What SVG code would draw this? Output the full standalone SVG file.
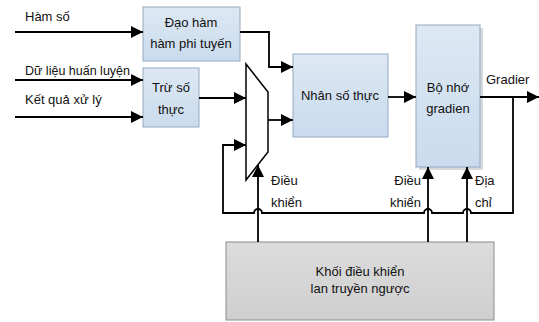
<svg xmlns="http://www.w3.org/2000/svg" width="539" height="322" viewBox="0 0 539 322">
<style>
.t{font-family:"Liberation Sans","DejaVu Sans",sans-serif;font-size:13px;fill:#111}
.c{text-anchor:middle}
.box{fill:url(#blue);stroke:#95a9be;stroke-width:1}
.ln{fill:none;stroke:#000;stroke-width:1.8}
</style>
<defs>
<linearGradient id="blue" x1="0" y1="0" x2="0" y2="1"><stop offset="0" stop-color="#dde8f3"/><stop offset="1" stop-color="#c9dbee"/></linearGradient>
<linearGradient id="gray" x1="0" y1="0" x2="0" y2="1"><stop offset="0" stop-color="#dcdcdc"/><stop offset="1" stop-color="#cfcfcf"/></linearGradient>
<marker id="ar" markerUnits="userSpaceOnUse" markerWidth="12" markerHeight="12" refX="12" refY="6" orient="auto"><path d="M0,0 L12,6 L0,12 z" fill="#000"/></marker>
</defs>
<rect width="539" height="322" fill="#fff"/>
<g id="inputs">
<text class="t" x="25" y="21">Hàm số</text>
<text class="t" x="25" y="75" textLength="105" lengthAdjust="spacingAndGlyphs">Dữ liệu huấn luyện</text>
<text class="t" x="25" y="104">Kết quả xử lý</text>
</g>
<g id="dao-ham">
<rect class="box" x="143" y="7" width="97" height="54"/>
<text class="t c" x="191" y="27">Đạo hàm</text>
<text class="t c" x="191" y="48">hàm phi tuyến</text>
</g>
<g id="tru-so-thuc">
<rect class="box" x="143" y="68" width="56" height="59"/>
<text class="t c" x="171" y="92">Trừ số</text>
<text class="t c" x="171" y="114">thực</text>
</g>
<g id="mux">
<polygon points="246,64 268,92 268,152 246,180" fill="#fff" stroke="#000" stroke-width="1.5"/>
</g>
<g id="nhan-so-thuc">
<rect class="box" x="293" y="54" width="95" height="83"/>
<text class="t c" x="340" y="100">Nhân số thực</text>
</g>
<g id="bo-nho">
<rect x="419" y="28" width="64" height="142" fill="#d5d9de"/>
<rect class="box" x="416" y="25" width="64" height="142"/>
<text class="t c" x="448" y="92">Bộ nhớ</text>
<text class="t c" x="448" y="113">gradien</text>
</g>
<g id="khoi-dieu-khien">
<rect x="226" y="242" width="268" height="78" fill="url(#gray)" stroke="#8c8c8c" stroke-width="1"/>
<text class="t c" x="360" y="276">Khối điều khiển</text>
<text class="t c" x="360" y="293">lan truyền ngược</text>
</g>
<g id="labels">
<text class="t" x="486" y="84">Gradier</text>
<text class="t" x="271" y="185">Điều</text>
<text class="t" x="271" y="207">khiển</text>
<text class="t" x="421" y="185" text-anchor="end">Điều</text>
<text class="t" x="421" y="207" text-anchor="end">khiển</text>
<text class="t" x="475" y="185">Địa</text>
<text class="t" x="475" y="207">chỉ</text>
</g>
<g id="connectors">
<path class="ln" d="M15,32 H143" marker-end="url(#ar)"/>
<path class="ln" d="M15,80 H143" marker-end="url(#ar)"/>
<path class="ln" d="M15,117 H143" marker-end="url(#ar)"/>
<path class="ln" d="M240,32 H269 V67 H293" marker-end="url(#ar)"/>
<path class="ln" d="M199,98 H246" marker-end="url(#ar)"/>
<path class="ln" d="M268,120 H293" marker-end="url(#ar)"/>
<path class="ln" d="M388,97 H416" marker-end="url(#ar)"/>
<path class="ln" d="M480,97 H539" marker-end="url(#ar)"/>
<path class="ln" d="M513,97 V213 H471 A4,4 0 0 0 463,213 H432 A4,4 0 0 0 424,213 H262 A4,4 0 0 0 254,213 H223 V145 H246" marker-end="url(#ar)"/>
<path class="ln" d="M258,242 V165" marker-end="url(#ar)"/>
<path class="ln" d="M428,242 V167" marker-end="url(#ar)"/>
<path class="ln" d="M467,242 V167" marker-end="url(#ar)"/>
</g>
</svg>
